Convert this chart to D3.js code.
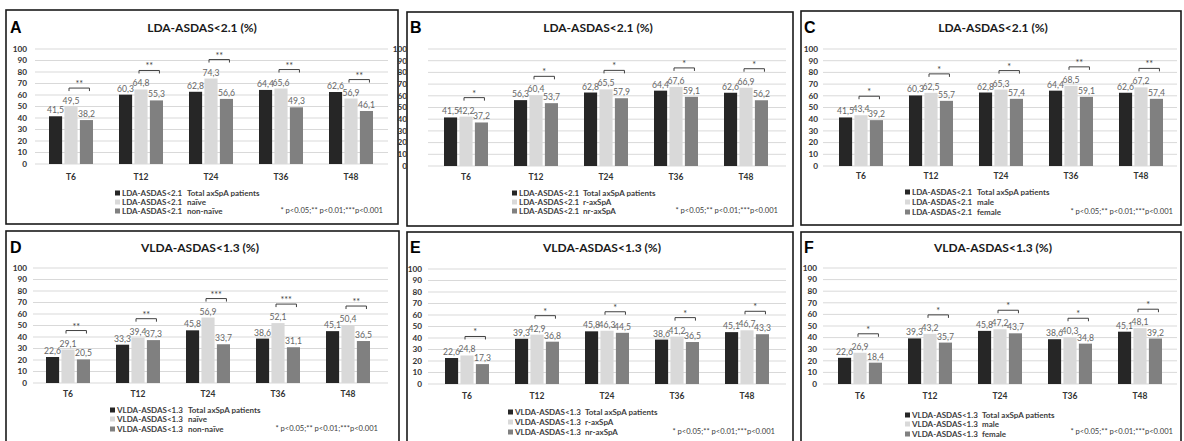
<!DOCTYPE html>
<html><head><meta charset="utf-8">
<script src="https://cdn.jsdelivr.net/npm/d3@7"></script>
<style>body{margin:0;background:#fff;} svg{display:block}</style>
</head><body>
<svg id="chart" width="1184" height="441"></svg>
<script>
const categories = ["T6","T12","T24","T36","T48"];
const yTicks = [0,10,20,30,40,50,60,70,80,90,100];
const sigNote = "* p<0.05;** p<0.01;***p<0.001";

const ldaTitle = "LDA-ASDAS<2.1 (%)";
const vldaTitle = "VLDA-ASDAS<1.3 (%)";
const ldaLabel = "LDA-ASDAS<2.1";
const vldaLabel = "VLDA-ASDAS<1.3";

const groupsTreat = ["Total axSpA patients","naïve","non-naïve"];
const groupsForm = ["Total axSpA patients","r-axSpA","nr-axSpA"];
const groupsSex = ["Total axSpA patients","male","female"];

// Panel A
const aTotal = [41.5, 60.3, 62.8, 64.4, 62.6];
const aNaive = [49.5, 64.8, 74.3, 65.6, 56.9];
const aNonNaive = [38.2, 55.3, 56.6, 49.3, 46.1];
const aSig = ["**","**","**","**","**"];
// Panel B
const bTotal = [41.5, 56.3, 62.8, 64.4, 62.6];
const bRax = [42.2, 60.4, 65.5, 67.6, 66.9];
const bNrax = [37.2, 53.7, 57.9, 59.1, 56.2];
const bSig = ["*","*","*","*","*"];
// Panel C
const cTotal = [41.5, 60.3, 62.8, 64.4, 62.6];
const cMale = [43.4, 62.5, 65.3, 68.5, 67.2];
const cFemale = [39.2, 55.7, 57.4, 59.1, 57.4];
const cSig = ["*","*","*","**","**"];
// Panel D
const dTotal = [22.6, 33.3, 45.8, 38.6, 45.1];
const dNaive = [29.1, 39.4, 56.9, 52.1, 50.4];
const dNonNaive = [20.5, 37.3, 33.7, 31.1, 36.5];
const dSig = ["**","**","***","***","**"];
// Panel E
const eTotal = [22.6, 39.3, 45.8, 38.6, 45.1];
const eRax = [24.8, 42.9, 46.3, 41.2, 46.7];
const eNrax = [17.3, 36.8, 44.5, 36.5, 43.3];
const eSig = ["*","*","*","*","*"];
// Panel F
const fTotal = [22.6, 39.3, 45.8, 38.6, 45.1];
const fMale = [26.9, 43.2, 47.2, 40.3, 48.1];
const fFemale = [18.4, 35.7, 43.7, 34.8, 39.2];
const fSig = ["*","*","*","*","*"];

const panels = [
  {letter:"A", title:ldaTitle, measure:ldaLabel, groups:groupsTreat, series:[aTotal,aNaive,aNonNaive], sig:aSig},
  {letter:"B", title:ldaTitle, measure:ldaLabel, groups:groupsForm, series:[bTotal,bRax,bNrax], sig:bSig},
  {letter:"C", title:ldaTitle, measure:ldaLabel, groups:groupsSex, series:[cTotal,cMale,cFemale], sig:cSig},
  {letter:"D", title:vldaTitle, measure:vldaLabel, groups:groupsTreat, series:[dTotal,dNaive,dNonNaive], sig:dSig},
  {letter:"E", title:vldaTitle, measure:vldaLabel, groups:groupsForm, series:[eTotal,eRax,eNrax], sig:eSig},
  {letter:"F", title:vldaTitle, measure:vldaLabel, groups:groupsSex, series:[fTotal,fMale,fFemale], sig:fSig}
];

// layout (positions only)
const layouts = [
  {box:[6,10,392,214], grid:[35,388], band0:36, y100:49, y0:164, tickX:27, letterX:10, letterY:33, titleX:202, titleY:32, catY:180, legX:115, legDX:72, legY:[193,202,211], noteX:383, noteY:213},
  {box:[407,12,386,214], grid:[428,786], band0:431, y100:49, y0:166, tickX:407, letterX:410, letterY:33, titleX:598, titleY:32, catY:180, legX:512, legDX:71, legY:[193,202,211], noteX:778, noteY:213},
  {box:[801,11,380,214], grid:[823,1177], band0:826, y100:49, y0:166, tickX:818, letterX:804, letterY:33, titleX:993, titleY:32, catY:179, legX:905, legDX:72, legY:[192,202,212], noteX:1173, noteY:214},
  {box:[6,231,393,214], grid:[33,388], band0:33, y100:268, y0:383, tickX:27, letterX:10, letterY:253, titleX:200, titleY:252, catY:397, legX:110, legDX:78, legY:[410,419,429], noteX:378, noteY:431},
  {box:[407,232,386,214], grid:[428,786], band0:432, y100:269, y0:384, tickX:422, letterX:410, letterY:253, titleX:602, titleY:252, catY:399, legX:508, legDX:77, legY:[412,422,432], noteX:775, noteY:434},
  {box:[801,232,380,214], grid:[823,1177], band0:825, y100:268, y0:384, tickX:817, letterX:804, letterY:253, titleX:993, titleY:252, catY:399, legX:905, legDX:77, legY:[415,424,434], noteX:1173, noteY:434}
];

const colors = ["#262626","#d9d9d9","#808080"];
const FONT = "Lato, 'Open Sans', sans-serif";

const svg = d3.select("#chart");

panels.forEach((p, pi) => {
  const L = layouts[pi];
  const g = svg.append("g");
  const [bx, by, bw, bh] = L.box;
  g.append("rect").attr("x",bx).attr("y",by).attr("width",bw).attr("height",bh)
    .attr("fill","#fff").attr("stroke","#1a1a1a").attr("stroke-width",1.6);

  const y = d3.scaleLinear().domain([0,100]).range([L.y0, L.y100]);
  const x0 = d3.scaleBand().domain(categories).range([L.band0, L.band0 + 350]).padding(0);
  const x1 = d3.scaleBand().domain([0,1,2]).range([-22,22]).paddingInner(0.15).paddingOuter(0);

  g.selectAll(".grid").data(yTicks).join("line")
    .attr("x1",L.grid[0]).attr("x2",L.grid[1])
    .attr("y1",d=>y(d)).attr("y2",d=>y(d))
    .attr("stroke","#d9d9d9").attr("stroke-width",1);

  g.selectAll(".yt").data(yTicks).join("text")
    .attr("x",L.tickX).attr("y",d=>y(d)).attr("dy","0.35em")
    .attr("text-anchor","end").attr("font-family",FONT).attr("font-weight","bold")
    .attr("font-size",8.2).attr("fill","#333").text(d=>d);

  g.selectAll(".cat").data(categories).join("text")
    .attr("x",d=>x0(d)+x0.bandwidth()/2).attr("y",L.catY)
    .attr("text-anchor","middle").attr("font-family",FONT).attr("font-weight","bold")
    .attr("font-size",8.5).attr("fill","#333").text(d=>d);

  p.series.forEach((s, si) => {
    const cx = (c) => x0(c) + x0.bandwidth()/2 + x1(si);
    g.selectAll(".bar"+si).data(categories).join("rect")
      .attr("x",(c)=>cx(c)).attr("width",x1.bandwidth())
      .attr("y",(c,i)=>y(s[i])).attr("height",(c,i)=>y(0)-y(s[i]))
      .attr("fill",colors[si]);
    g.selectAll(".lab"+si).data(categories).join("text")
      .attr("x",(c)=>cx(c)+x1.bandwidth()/2).attr("y",(c,i)=>y(s[i])-3)
      .attr("text-anchor","middle").attr("font-family",FONT)
      .attr("font-size",8.6).attr("fill","#666")
      .text((c,i)=>String(s[i].toFixed(1)).replace(".",","));
  });

  categories.forEach((c, i) => {
    const xa = x0(c) + x0.bandwidth()/2 + x1(1) + x1.bandwidth()/2 - 2;
    const xb = x0(c) + x0.bandwidth()/2 + x1(2) + x1.bandwidth()/2 + 3;
    const top = y(Math.max(p.series[1][i], p.series[2][i])) - 19;
    g.append("path")
      .attr("d",`M${xa},${top+3}V${top}H${xb}V${top+3}`)
      .attr("fill","none").attr("stroke","#404040").attr("stroke-width",1);
    g.append("text").attr("x",(xa+xb)/2).attr("y",top-1)
      .attr("text-anchor","middle").attr("font-family",FONT)
      .attr("font-size",9).attr("fill","#404040").text(p.sig[i]);
  });

  g.append("text").attr("x",L.letterX).attr("y",L.letterY)
    .attr("font-family","'Liberation Sans', Arial, sans-serif").attr("font-weight","bold")
    .attr("font-size",16).attr("fill","#000").text(p.letter);
  g.append("text").attr("x",L.titleX).attr("y",L.titleY).attr("text-anchor","middle")
    .attr("font-family",FONT).attr("font-weight","bold")
    .attr("font-size",12).attr("fill","#1a1a1a").text(p.title);

  p.groups.forEach((gr, gi) => {
    const ly = L.legY[gi];
    g.append("rect").attr("x",L.legX).attr("y",ly-2.5).attr("width",5).attr("height",5).attr("fill",colors[gi]);
    g.append("text").attr("x",L.legX+7).attr("y",ly).attr("dy","0.35em")
      .attr("font-family",FONT).attr("font-weight","bold").attr("font-size",8)
      .attr("fill","#404040").text(p.measure);
    g.append("text").attr("x",L.legX+L.legDX).attr("y",ly).attr("dy","0.35em")
      .attr("font-family",FONT).attr("font-weight","bold").attr("font-size",8)
      .attr("fill","#404040").text(gr);
  });

  g.append("text").attr("x",L.noteX).attr("y",L.noteY).attr("text-anchor","end")
    .attr("font-family",FONT).attr("font-size",7.6).attr("fill","#404040").text(sigNote);
});
</script>
</body></html>
